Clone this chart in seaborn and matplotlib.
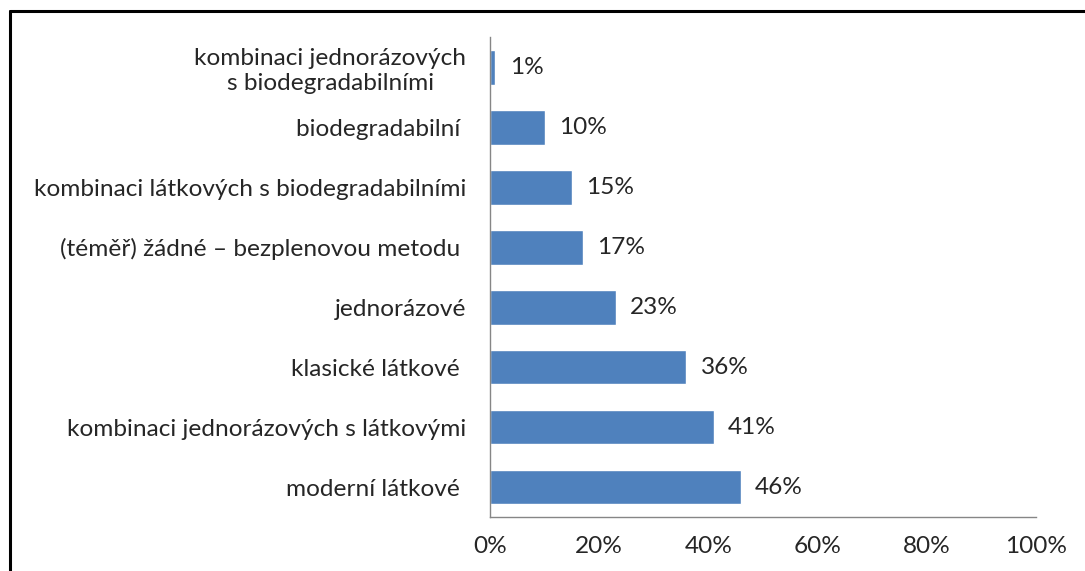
import matplotlib
matplotlib.use("Agg")
import matplotlib.pyplot as plt
import seaborn as sns
import pandas as pd
from matplotlib.lines import Line2D
from matplotlib.ticker import FuncFormatter

categories = [
    "kombinaci jednorázových\ns biodegradabilními",
    "biodegradabilní ",
    "kombinaci látkových s biodegradabilními",
    "(téměř) žádné – bezplenovou metodu ",
    "jednorázové",
    "klasické látkové ",
    "kombinaci jednorázových s látkovými",
    "moderní látkové ",
]
values = [1, 10, 15, 17, 23, 36, 41, 46]
xticks = [0, 20, 40, 60, 80, 100]

df = pd.DataFrame({"kategorie": categories, "podil": values})

sns.set_style("white")
plt.rcParams["font.family"] = ["Lato", "DejaVu Sans"]

fs = 17.6

fig = plt.figure(figsize=(10.85, 5.71), dpi=100)
ax = fig.add_axes([0.4516, 0.0946, 0.503, 0.840])

sns.barplot(data=df, x="podil", y="kategorie", orient="h", color="#4F81BD",
            saturation=1, width=0.58, ax=ax)

for i, v in enumerate(values):
    ax.text(v + 2.6, i, f"{v}%", va="center", ha="left", fontsize=fs, color="#262626")

ax.set_xlim(0, 100)
ax.set_xticks(xticks)
ax.xaxis.set_major_formatter(FuncFormatter(lambda x, _: f"{x:.0f}%"))
ax.set_xlabel("")
ax.set_ylabel("")
ax.tick_params(axis="x", labelsize=fs, colors="#262626", length=0, pad=14)
ax.tick_params(axis="y", labelsize=fs, colors="#262626", length=0, pad=17)
for lab in ax.get_yticklabels():
    lab.set_multialignment("center")

for side in ["top", "right"]:
    ax.spines[side].set_visible(False)
for side in ["left", "bottom"]:
    ax.spines[side].set_color("#868686")
    ax.spines[side].set_linewidth(1)

# outer frame (left and top edges only, as cropped in the source)
fig.add_artist(Line2D([10 / 1085, 10 / 1085], [0, 1 - 11 / 571],
                      transform=fig.transFigure, color="black", lw=2.2))
fig.add_artist(Line2D([10 / 1085, 1], [1 - 11 / 571, 1 - 11 / 571],
                      transform=fig.transFigure, color="black", lw=2.2))

fig.savefig("out.png", dpi=100)
